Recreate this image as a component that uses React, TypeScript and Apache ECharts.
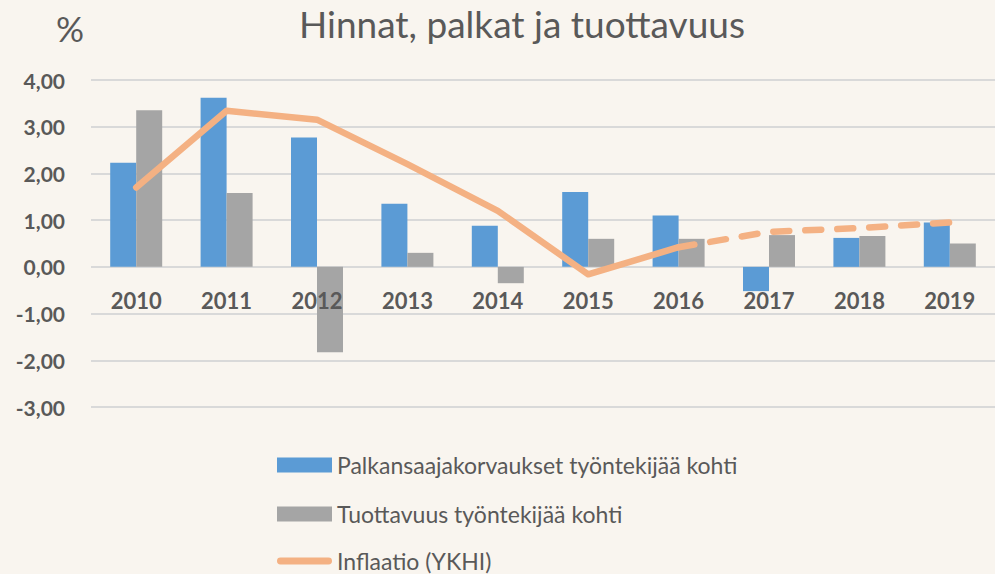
import React, { useEffect, useRef } from "react";
import * as echarts from "echarts";

const categories = ["2010", "2011", "2012", "2013", "2014", "2015", "2016", "2017", "2018", "2019"];
const palkat = [2.23, 3.62, 2.77, 1.35, 0.88, 1.6, 1.1, -0.52, 0.62, 0.95];
const tuottavuus = [3.35, 1.58, -1.83, 0.3, -0.35, 0.6, 0.6, 0.68, 0.66, 0.5];
const inflaatio = [1.7, 3.34, 3.15, 2.2, 1.2, -0.16, 0.42, 0.75, 0.83, 0.95];
const inflaatioActualUntil = 6; // index of 2016, after which the line is dashed

const yTicks = { min: -3, max: 4, interval: 1 };

const nameBlue = "Palkansaajakorvaukset työntekijää kohti";
const nameGray = "Tuottavuus työntekijää kohti";
const nameLine = "Inflaatio (YKHI)";

export default function App() {
  const ref = useRef<HTMLDivElement>(null);
  useEffect(() => {
    if (!ref.current) return;
    const chart = echarts.init(ref.current, undefined, { renderer: "svg" });
    const solid = inflaatio.map((v, i) => (i <= inflaatioActualUntil ? v : null));
    const dashed = inflaatio.map((v, i) => (i >= inflaatioActualUntil ? v : null));
    const font = "Lato, 'Open Sans', sans-serif";
    const legendText = { fontSize: 23, lineHeight: 24, color: "#595959", fontFamily: font };
    const legendBase = {
      orient: "horizontal",
      left: 277,
      itemWidth: 55,
      itemHeight: 15,
      padding: 0,
      textStyle: legendText,
    };
    chart.setOption({
      animation: false,
      backgroundColor: "#f9f5ef",
      textStyle: { fontFamily: font },
      title: {
        text: "Hinnat, palkat ja tuottavuus",
        left: 517,
        textAlign: "center",
        top: 0,
        textStyle: { fontSize: 37, fontWeight: "normal", color: "#595959", fontFamily: font },
      },
      graphic: [
        {
          type: "text",
          left: 56,
          top: 10,
          style: { text: "%", fontSize: 35, fill: "#595959", fontFamily: font },
        },
      ],
      legend: [
        { ...legendBase, top: 453, data: [{ name: nameBlue, icon: "rect" }] },
        { ...legendBase, top: 502, data: [{ name: nameGray, icon: "rect" }] },
        {
          ...legendBase,
          top: 549,
          data: [
            {
              name: nameLine,
              icon: "path://M4,0 L59,0 A4,4 0 0 1 59,8 L4,8 A4,4 0 0 1 4,0 Z",
            },
          ],
        },
      ],
      grid: { left: 91, top: 80, width: 917, bottom: 167 },
      xAxis: {
        type: "category",
        data: categories,
        offset: -140,
        z: 10,
        axisLine: { show: false, onZero: false },
        axisTick: { show: false },
        axisLabel: {
          margin: 22,
          fontSize: 22,
          fontWeight: "bold",
          color: "#595959",
          fontFamily: font,
        },
      },
      yAxis: {
        type: "value",
        min: yTicks.min,
        max: yTicks.max,
        interval: yTicks.interval,
        axisLine: { show: false },
        axisTick: { show: false },
        splitLine: { lineStyle: { color: "#d9d9d9", width: 2 } },
        axisLabel: {
          margin: 26,
          fontSize: 21,
          fontWeight: "bold",
          color: "#595959",
          fontFamily: font,
          formatter: (v: number) => v.toFixed(2).replace(".", ","),
        },
      },
      series: [
        {
          name: nameBlue,
          type: "bar",
          data: palkat,
          barWidth: 26,
          barGap: "0%",
          itemStyle: { color: "#5b9bd5" },
        },
        {
          name: nameGray,
          type: "bar",
          data: tuottavuus,
          barWidth: 26,
          barGap: "0%",
          itemStyle: { color: "#a5a5a5" },
        },
        {
          name: nameLine,
          type: "line",
          data: solid,
          symbol: "none",
          itemStyle: { color: "#f4b183" },
          lineStyle: { color: "#f4b183", width: 6.5, cap: "round", join: "round" },
          z: 5,
        },
        {
          name: "Inflaatio ennuste",
          type: "line",
          data: dashed,
          symbol: "none",
          itemStyle: { color: "#f4b183" },
          lineStyle: {
            color: "#f4b183",
            width: 6.5,
            type: [16, 16],
            cap: "round",
            join: "round",
          },
          z: 5,
        },
      ],
    });
    return () => chart.dispose();
  }, []);
  return (
    <div
      ref={ref}
      style={{ position: "fixed", left: 0, top: 0, width: 995, height: 574 }}
    />
  );
}
